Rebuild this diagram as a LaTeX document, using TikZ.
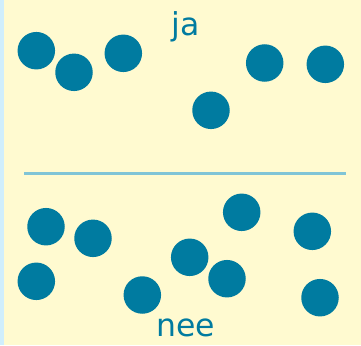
\documentclass[tikz,border=0pt]{standalone}
\usepackage{fontspec}
\setmainfont{DejaVu Sans}
\definecolor{bgyellow}{RGB}{255,250,208}
\definecolor{strip}{RGB}{208,238,252}
\definecolor{dotc}{RGB}{0,123,160}
\definecolor{linec}{RGB}{128,196,214}
\begin{document}
\begin{tikzpicture}[x=1pt,y=-1pt,
  dot/.style={circle,fill=dotc,inner sep=0pt,minimum size=37.5pt},
  lbl/.style={text=dotc,font=\fontsize{31.5}{38}\selectfont,inner sep=0pt,anchor=base}]
\useasboundingbox (0,0) rectangle (361,345);
\fill[bgyellow] (0,0) rectangle (361,345);
\fill[strip] (0,0) rectangle (4,345);
% top group
\node[dot] (t1) at (36.3,50.7) {};
\node[dot] (t2) at (74,72.3) {};
\node[dot] (t3) at (123.3,53.3) {};
\node[dot] (t4) at (211,110.3) {};
\node[dot] (t5) at (264.7,63) {};
\node[dot] (t6) at (325.3,64.3) {};
% bottom group
\node[dot] (b1) at (46,226.7) {};
\node[dot] (b2) at (93,238.3) {};
\node[dot] (b3) at (36.3,281.3) {};
\node[dot] (b4) at (142.3,295) {};
\node[dot] (b5) at (189.7,257.3) {};
\node[dot] (b6) at (227,278.7) {};
\node[dot] (b7) at (241.7,212.3) {};
\node[dot] (b8) at (312.3,231.3) {};
\node[dot] (b9) at (320,297.7) {};
% divider
\coordinate (l1) at (24,173.5);
\coordinate (l2) at (346,173.5);
\draw[linec,line width=2.3pt] (l1) -- (l2);
% labels
\node[lbl] (ja) at (186,36) {ja};
\node[lbl] (nee) at (186,336) {nee};
\end{tikzpicture}
\end{document}
